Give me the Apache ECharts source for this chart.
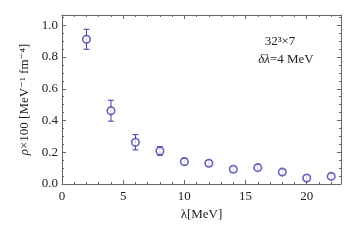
<!DOCTYPE html>
<html><head><meta charset="utf-8">
<script src="https://cdn.jsdelivr.net/npm/echarts@6/dist/echarts.min.js"></script>
<style>html,body{margin:0;padding:0;background:#fff}#c{width:355px;height:242px}</style>
</head><body><div id="c"></div>
<script>
const lambda = [2, 4, 6, 8, 10, 12, 14, 16, 18, 20, 22];
const rho    = [0.912, 0.462, 0.263, 0.208, 0.141, 0.131, 0.093, 0.103, 0.075, 0.038, 0.048];
const err    = [0.063, 0.066, 0.048, 0.027, 0.020, 0.017, 0.015, 0.015, 0.015, 0.015, 0.015];
const xTicks = [0, 5, 10, 15, 20];
const yTicks = [0.0, 0.2, 0.4, 0.6, 0.8, 1.0];

const col = '#3c3ca8';
const font = '"Liberation Serif", "DejaVu Serif", serif';
const frame = {lineStyle:{color:'#666', width:1}};
const pts = lambda.map((x,i)=>[x, rho[i]]);
const bars = lambda.map((x,i)=>[x, rho[i]-err[i], rho[i]+err[i]]);

function xAxisDef(show, pos){
  return {type:'value', position:pos, min:0, max:22.8, interval:5,
    axisLine:{show:true, onZero:false, ...frame},
    axisTick:{show:true, inside:true, length:4, lineStyle:{color:'#666'}},
    minorTick:{show:true, splitNumber:5, length:2, lineStyle:{color:'#666'}},
    splitLine:{show:false},
    axisLabel:{show:show, margin:6, fontFamily:font, fontSize:13, color:'#222',
      formatter:v=> xTicks.includes(v) ? String(v) : ''},
  };
}
function yAxisDef(show, pos){
  return {type:'value', position:pos, min:0, max:1.065, interval:0.2,
    axisLine:{show:true, onZero:false, ...frame},
    axisTick:{show:true, inside:true, length:4, lineStyle:{color:'#666'}},
    minorTick:{show:true, splitNumber:4, length:2, lineStyle:{color:'#666'}},
    splitLine:{show:false},
    axisLabel:{show:show, margin:4, fontFamily:font, fontSize:13, color:'#222',
      formatter:v=>{ const m = yTicks.find(t=>Math.abs(t-v)<1e-9); return m===undefined ? '' : m.toFixed(1);} },
  };
}
const x1 = xAxisDef(true,'bottom');
x1.name = 'λ[MeV]'; x1.nameLocation='middle'; x1.nameGap=20;
x1.nameTextStyle = {fontFamily:font, fontSize:13, color:'#222'};
const y1 = yAxisDef(true,'left');
y1.name = '{i|ρ}×100 [MeV⁻¹ fm⁻⁴]'; y1.nameLocation='middle'; y1.nameGap=29;
y1.nameTextStyle = {fontFamily:font, fontSize:13, color:'#222', rich:{i:{fontStyle:'italic', fontFamily:font, fontSize:13, color:'#222'}}};

const chart = echarts.init(document.getElementById('c'), null, {renderer:'canvas'});
chart.setOption({
  animation:false,
  grid:{left:62, top:15, right:14, bottom:58},
  xAxis:[x1, xAxisDef(false,'top')],
  yAxis:[y1, yAxisDef(false,'right')],
  graphic:[
    {type:'text', x:280, y:42, style:{text:'32³×7', font:'13px '+font, fill:'#222', align:'center', verticalAlign:'middle'}},
    {type:'text', x:286, y:60, style:{rich:{i:{fontStyle:'italic', font:'italic 13px '+font, fill:'#222'}, n:{font:'13px '+font, fill:'#222'}}, text:'{i|δλ}{n|=4 MeV}', font:'13px '+font, fill:'#222', align:'center', verticalAlign:'middle'}}
  ],
  series:[
    {type:'custom', xAxisIndex:0, yAxisIndex:0, data:bars,
      renderItem:(params, api)=>{
        const x = api.value(0);
        const lo = api.coord([x, api.value(1)]);
        const hi = api.coord([x, api.value(2)]);
        const w = 3;
        const st = {stroke:col, lineWidth:1};
        return {type:'group', children:[
          {type:'line', shape:{x1:lo[0], y1:lo[1], x2:hi[0], y2:hi[1]}, style:st},
          {type:'line', shape:{x1:lo[0]-w, y1:lo[1], x2:lo[0]+w, y2:lo[1]}, style:st},
          {type:'line', shape:{x1:hi[0]-w, y1:hi[1], x2:hi[0]+w, y2:hi[1]}, style:st},
        ]};
      }, z:2},
    {type:'scatter', xAxisIndex:0, yAxisIndex:0, data:pts, symbol:'circle', symbolSize:7.5,
      itemStyle:{color:'#fff', borderColor:col, borderWidth:1.6}, z:3}
  ]
});
</script></body></html>
